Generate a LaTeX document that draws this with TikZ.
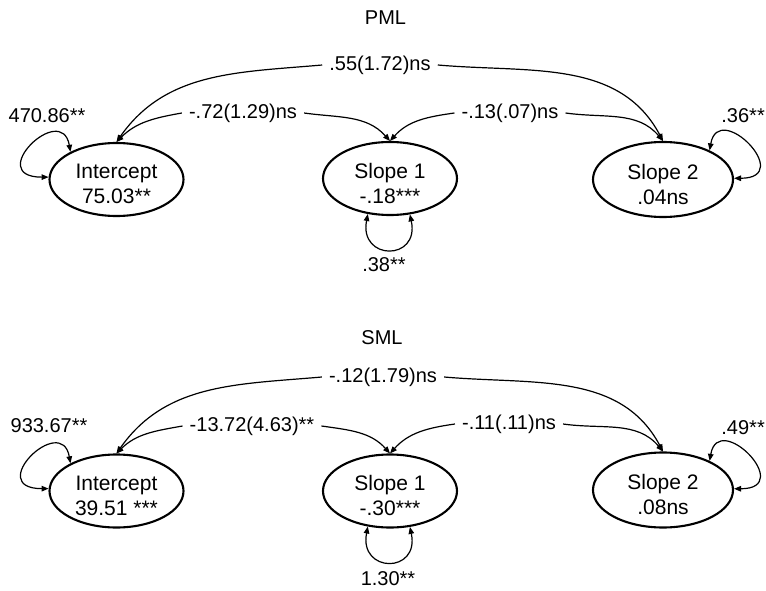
\documentclass[tikz,border=0pt]{standalone}
\usepackage{fontspec}
\setmainfont{Liberation Sans}
\usetikzlibrary{shapes.geometric,arrows.meta}

\tikzset{
  x=1pt, y=1pt,
  txt/.style={font=\fontsize{20}{24}\selectfont, inner sep=0pt},
  latent/.style={ellipse, draw, line width=2.1pt, minimum width=134pt,
    minimum height=73pt, inner sep=0pt},
  latentw/.style={latent, minimum width=140pt, minimum height=75pt},
  inside/.style={inner sep=0pt, align=center, font=\fontsize{21}{25}\selectfont},
  covlab/.style={txt, inner xsep=7pt, inner ysep=0pt},
  arr/.style={line width=1.2pt, -{Triangle[length=7pt,width=5.5pt]}},
  dbl/.style={line width=1.2pt, {Triangle[length=7pt,width=5.5pt]}-{Triangle[length=7pt,width=5.5pt]}},
}

\begin{document}
\begin{tikzpicture}
\useasboundingbox (0,0) rectangle (766,-591);

% ---------------- PML ----------------
\node[txt] (t1) at (385.5,-18) {PML};

\node[latent]  (I1)  at (116.5,-179.5) {};
\node[latent]  (S11) at (390,-178.5)   {};
\node[latentw] (S21) at (663,-179.5)   {};
\node[inside] (I1t)  at ([yshift=-4.5pt]I1.center)  {Intercept\\75.03**};
\node[inside] (S11t) at ([yshift=-4.5pt]S11.center) {Slope 1\\-.18***};
\node[inside] (S21t) at ([yshift=-4.5pt]S21.center) {Slope 2\\.04ns};

\node[covlab] (a1) at (380,-65)  {.55(1.72)ns};
\node[covlab] (b1) at (243,-113) {-.72(1.29)ns};
\node[covlab] (c1) at (510,-113) {-.13(.07)ns};

\draw[arr] (a1.west) to[out=185,in=55]  (I1.north);
\draw[arr] (a1.east) to[out=-5,in=118]  (S21.north);
\draw[arr] (b1.west) to[out=190,in=45]  (I1.north);
\draw[arr] (b1.east) to[out=-8,in=132]  (S11.north);
\draw[arr] (c1.west) to[out=188,in=48]  (S11.north);
\draw[arr] (c1.east) to[out=-8,in=130]  (S21.north);

\node[txt] (v11) at (47,-116)  {470.86**};
\node[txt] (v21) at (384,-265) {.38**};
\node[txt, anchor=east] (v31) at (765,-116) {.36**};

\draw[dbl] (I1.149) .. controls +(100:52) and +(180:65) .. (I1.178);
\draw[dbl] (S11.238) .. controls +(-9,-47) and +(10,-47) .. (S11.299);
\draw[dbl] (S21.32) .. controls +(80:52) and +(0:62) .. (S21.1);

% ---------------- SML ----------------
\node[txt] (t2) at (382,-338) {SML};

\node[latent]  (I2)  at (116.5,-491) {};
\node[latent]  (S12) at (390,-491)   {};
\node[latentw] (S22) at (663,-490)   {};
\node[inside] (I2t)  at ([yshift=-4.5pt]I2.center)  {Intercept\\39.51 ***};
\node[inside] (S12t) at ([yshift=-4.5pt]S12.center) {Slope 1\\-.30***};
\node[inside] (S22t) at ([yshift=-4.5pt]S22.center) {Slope 2\\.08ns};

\node[covlab] (a2) at (383,-377) {-.12(1.79)ns};
\node[covlab] (b2) at (252,-426) {-13.72(4.63)**};
\node[covlab] (c2) at (509,-424) {-.11(.11)ns};

\draw[arr] (a2.west) to[out=185,in=55]  (I2.north);
\draw[arr] (a2.east) to[out=-5,in=118]  (S22.north);
\draw[arr] (b2.west) to[out=190,in=45]  (I2.north);
\draw[arr] (b2.east) to[out=-8,in=132]  (S12.north);
\draw[arr] (c2.west) to[out=188,in=48]  (S12.north);
\draw[arr] (c2.east) to[out=-8,in=130]  (S22.north);

\node[txt] (v12) at (49,-426)  {933.67**};
\node[txt] (v22) at (388,-579) {1.30**};
\node[txt, anchor=east] (v32) at (765,-428) {.49**};

\draw[dbl] (I2.149) .. controls +(100:52) and +(180:65) .. (I2.178);
\draw[dbl] (S12.238) .. controls +(-9,-47) and +(10,-47) .. (S12.299);
\draw[dbl] (S22.32) .. controls +(80:52) and +(0:62) .. (S22.1);
\end{tikzpicture}
\end{document}
